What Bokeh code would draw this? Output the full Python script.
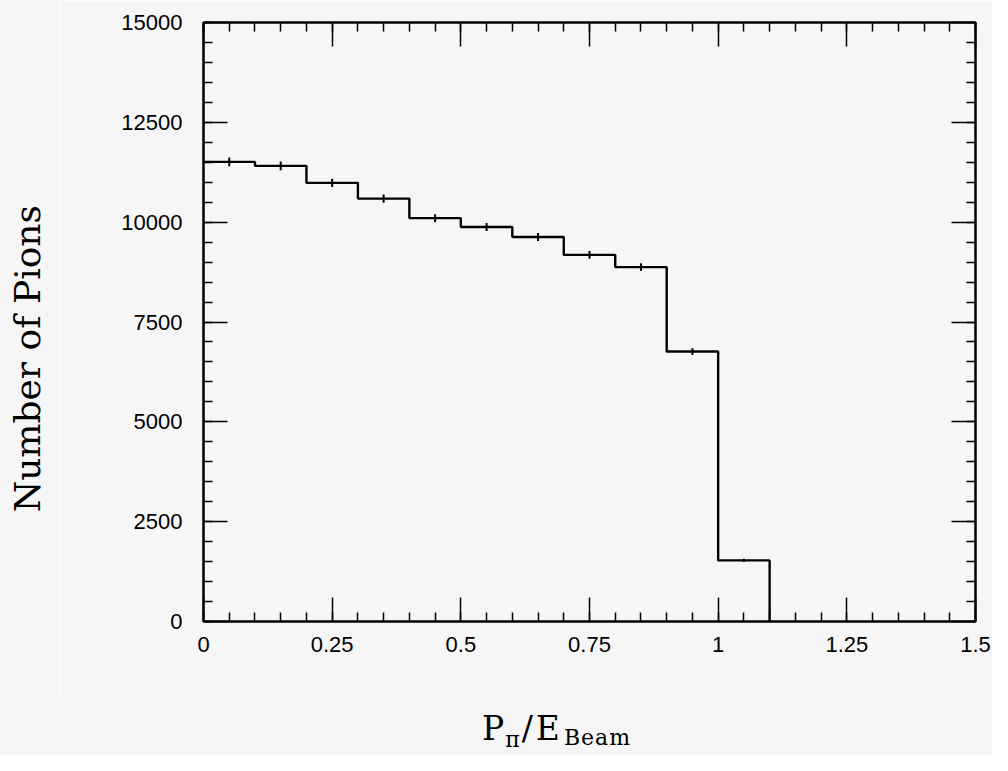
from bokeh.plotting import figure
from bokeh.models import Range1d, FixedTicker, LinearAxis, Div
from bokeh.layouts import row, column
from bokeh.embed import file_html
from bokeh.resources import INLINE

# ---- data ----
bin_edges = [0.0, 0.1, 0.2, 0.3, 0.4, 0.5, 0.6, 0.7, 0.8, 0.9, 1.0, 1.1]
counts = [11510, 11410, 10985, 10590, 10100, 9880, 9630, 9180, 8875, 6760, 1530]
errors = [110, 110, 105, 105, 100, 100, 100, 95, 95, 85, 40]
x_ticks = [0, 0.25, 0.5, 0.75, 1.0, 1.25, 1.5]
x_tick_labels = ["0", "0.25", "0.5", "0.75", "1", "1.25", "1.5"]
y_ticks = [0, 2500, 5000, 7500, 10000, 12500, 15000]
y_tick_labels = ["0", "2500", "5000", "7500", "10000", "12500", "15000"]
x_minor = [i * 0.05 for i in range(31)]
y_minor = [i * 500 for i in range(31)]
y_title = "Number of Pions"

BG = "#f6f6f6"
SERIF = "'DejaVu Serif', serif"
TOTAL_W, TOTAL_H = 992, 755
LEFT_W = 60
FIG_H = 700

p = figure(width=TOTAL_W - LEFT_W, height=FIG_H, output_backend="svg", toolbar_location=None,
           x_range=Range1d(0, 1.5), y_range=Range1d(0, 15000),
           min_border_left=203 - LEFT_W, min_border_right=17, min_border_top=22,
           min_border_bottom=FIG_H - 621, x_axis_location=None, y_axis_location=None,
           margin=0)
p.background_fill_color = BG
p.border_fill_color = BG
p.outline_line_color = "black"
p.outline_line_width = 2
p.xgrid.visible = False
p.ygrid.visible = False

def style(ax, labels, overrides):
    ax.axis_line_color = "black"
    ax.axis_line_width = 2
    ax.major_tick_in = 24
    ax.major_tick_out = 0
    ax.minor_tick_in = 9
    ax.minor_tick_out = 0
    ax.major_tick_line_width = 1.5
    ax.minor_tick_line_width = 1.5
    ax.major_tick_line_color = "black"
    ax.minor_tick_line_color = "black"
    if labels:
        ax.major_label_overrides = overrides
        ax.major_label_text_font = "Liberation Sans"
        ax.major_label_text_font_size = "22px"
        ax.major_label_text_color = "black"
    else:
        ax.major_label_text_color = None
        ax.major_label_text_font_size = "1px"
        ax.major_label_standoff = 0

xt = FixedTicker(ticks=x_ticks, minor_ticks=x_minor)
yt = FixedTicker(ticks=y_ticks, minor_ticks=y_minor)

xb = LinearAxis(ticker=xt)
style(xb, True, {t: l for t, l in zip(x_ticks, x_tick_labels)})
xb.major_label_standoff = 15
p.add_layout(xb, "below")
xa = LinearAxis(ticker=xt)
style(xa, False, {})
p.add_layout(xa, "above")
yl = LinearAxis(ticker=yt)
style(yl, True, {t: l for t, l in zip(y_ticks, y_tick_labels)})
yl.major_label_standoff = 21
p.add_layout(yl, "left")
yr = LinearAxis(ticker=yt)
style(yr, False, {})
p.add_layout(yr, "right")

# histogram step line
p.step(x=bin_edges, y=counts + [0], mode="after", line_color="black", line_width=2.4)

# error bars at bin centres
centers = [(a + b) / 2 for a, b in zip(bin_edges[:-1], bin_edges[1:])]
p.segment(x0=centers, x1=centers, y0=[c - e for c, e in zip(counts, errors)],
          y1=[c + e for c, e in zip(counts, errors)], line_color="black", line_width=2)

# y axis title (rotated HTML text, reading bottom to top)
left_html = (
    f'<div style="position:relative;width:{LEFT_W}px;height:{TOTAL_H}px;">'
    f'<div style="position:absolute;left:10px;top:205px;writing-mode:vertical-rl;'
    f'transform:rotate(180deg);font-family:{SERIF};font-size:36px;line-height:36px;'
    f'white-space:nowrap;color:black;">{y_title}</div></div>'
)
left_div = Div(text=left_html, width=LEFT_W, height=TOTAL_H, margin=0,
               styles={"background-color": BG, "overflow": "hidden"})

# x axis title with subscripts
x_html = (
    f'<div style="position:relative;width:{TOTAL_W - LEFT_W}px;height:{TOTAL_H - FIG_H}px;">'
    f'<div style="position:absolute;left:{482 - LEFT_W}px;top:12px;font-family:{SERIF};'
    f'font-size:33px;line-height:33px;white-space:nowrap;color:black;">'
    f'P<span style="font-size:22px;position:relative;top:7px;margin-left:1px;">π</span>'
    f'<span style="margin-left:2px;">/</span>'
    f'<span style="margin-left:3px;">E</span>'
    f'<span style="font-size:22px;position:relative;top:5px;margin-left:4px;letter-spacing:1px;">Beam</span>'
    f'</div></div>'
)
bottom_div = Div(text=x_html, width=TOTAL_W - LEFT_W, height=TOTAL_H - FIG_H, margin=0,
                 styles={"background-color": BG, "overflow": "hidden"})

layout = row(left_div, column(p, bottom_div, spacing=0), spacing=0)
open("out.html", "w").write(file_html(layout, INLINE))
